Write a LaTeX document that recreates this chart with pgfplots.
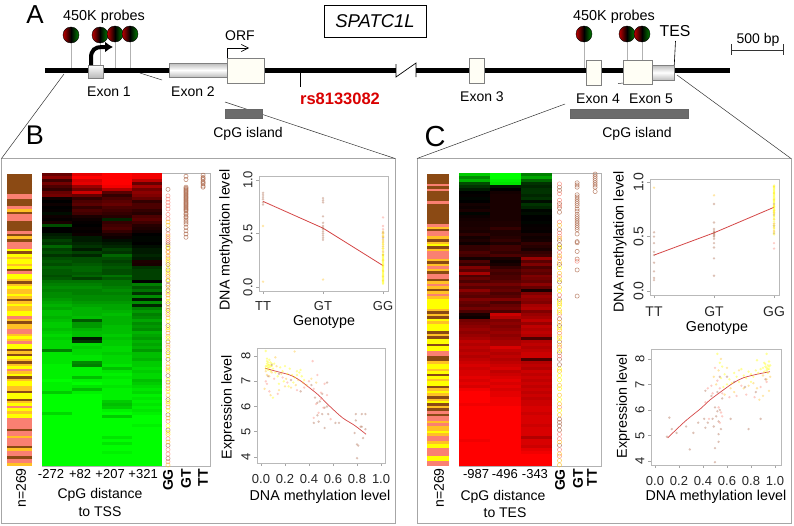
\documentclass[border=0pt]{standalone}
\usepackage{fontspec}
\setmainfont{Liberation Sans}
\usepackage{pgfplots}
\usepackage{pgfplotstable}
\usepackage{graphicx}
\pgfplotsset{compat=1.18}
\usetikzlibrary{arrows.meta}
\newcommand\fs[1]{\fontsize{#1}{#1}\selectfont}
\definecolor{cbrown}{RGB}{139,74,20}
\definecolor{csalmon}{RGB}{250,128,114}
\definecolor{cgold}{RGB}{255,193,37}
\definecolor{cyellow}{RGB}{255,255,0}
\definecolor{lineR}{RGB}{212,70,70}
\definecolor{circB}{RGB}{170,100,70}
\pgfdeclareplotmark{lolly}{\shade[left color=red!75!black,right color=green!50!black,middle color=black] (0,0) circle (8pt);}

% heat map rows, top to bottom: -1 green, 0 black, 1 red
\pgfplotstableread{
a b c d
.40 .90 1 .95
.55 1 1 .95
.25 .85 1 .75
.45 .9 1 .4
.3 .6 .95 .65
.2 .45 .7 .45
.4 .8 .35 .55
.45 .4 .2 .5
.05 .2 .3 .4
0 .3 .35 .2
.05 .35 .4 .3
0 .2 .3 .3
.02 .3 .25 .2
-.05 .25 .2 .15
.05 .1 .15 .3
.02 .05 -.15 .35
.1 .02 .2 .25
-.3 0 .25 .15
0 .03 .3 .12
0 .02 .2 .08
-.1 .05 .1 0
-.15 -.1 .05 -.02
-.25 -.1 -.05 -.02
-.2 -.15 -.1 0
-.4 -.2 -.15 -.05
-.25 -.1 -.25 -.1
-.3 -.25 -.2 -.1
-.2 -.15 -.4 -.15
-.3 -.3 -.3 -.1
-.35 -.3 -.25 .12
-.3 -.35 -.3 .1
-.4 -.4 -.35 -.2
-.35 -.4 -.3 -.25
-.35 -.35 -.3 -.25
-.3 -.4 -.45 -.25
-.35 -.25 -.35 -.25
-.45 -.45 -.45 0
-.5 -.5 -.45 -.5
-.55 -.55 -.5 -.35
-.5 -.5 -.55 -.45
-.55 -.5 -.5 -.2
-.55 -.55 -.55 -.55
-.6 -.55 -.55 -.1
-.65 -.6 -.6 -.55
-.7 -.65 -.65 -.15
-.65 -.7 -.65 -.5
-.75 -.7 -.7 -.6
-.75 -.7 -.75 -.5
-.7 -.75 -.7 -.55
-.75 -.35 -.7 -.65
-.8 -.6 -.7 -.55
-.8 -.6 -.75 -.6
-.75 -.7 -.75 -.55
-.8 -.75 -.75 -.7
-.85 -.75 -.8 -.65
-.8 -.1 -.75 -.6
-.85 -.2 -.8 -.7
-.85 -.85 -.8 -.65
-.85 -.8 -.85 -.7
-.5 -.85 -.85 -.6
-.9 -.85 -.8 -.75
-.9 -.9 -.85 -.75
-.9 -.9 -.85 -.7
-.9 -.55 -.85 -.8
-.95 -.5 -.9 -.8
-.95 -.95 -.75 -.85
-.95 -.95 -.9 -.8
-.95 -.95 -.95 -.85
-.95 -.75 -.9 -.85
-1 -.95 -.95 -.75
-.95 -1 -.95 -.8
-.95 -.9 -.9 -.85
-.95 -.75 -.95 -.9
-.8 -.95 -.95 -.85
-1 -1 -.95 -.95
-1 -1 -.95 -.9
-1 -1 -.8 -.95
-1 -1 -.75 -.9
-1 -1 -.8 -.95
-1 -1 -.95 -.9
-.85 -1 -1 -.95
-1 -1 -.8 -1
-1 -1 -1 -1
-1 -1 -1 -1
-1 -1 -1 -.95
-1 -1 -1 -1
-1 -1 -1 -1
-1 -1 -1 -1
-1 -1 -.9 -1
-1 -1 -1 -1
-1 -1 -.9 -1
-1 -1 -1 -1
-1 -1 -1 -1
-1 -1 -.95 -1
-1 -1 -1 -1
-1 -1 -1 -1
-1 -1 -1 -1
-1 -1 -1 -1
}\heatB

\pgfplotstableread{
a b c
-.8 -1 -.5
-.55 -1 -.65
-.7 -.95 -.4
-.3 -.9 -.2
-.2 -.1 -.15
-.1 0 -.2
0 .08 -.2
.02 .1 -.15
-.02 .1 -.2
0 .1 -.05
.08 .1 -.2
.05 .1 -.15
.1 .1 -.02
-.02 .1 -.05
.05 .1 0
.08 .1 0
.1 .12 -.02
.1 .12 .02
.12 .2 .03
.1 .12 .02
.18 .12 .1
.08 .15 .06
.12 .2 .08
.05 .12 .2
.2 .25 .15
.2 .25 .1
.3 .2 .2
.25 .3 .25
.08 .1 .6
.3 .05 .35
.2 .1 .5
.5 .2 .3
.35 .3 .4
.65 .25 .35
.3 .3 .5
.4 .3 .45
.3 .35 .4
.45 .45 .55
.35 .35 .4
.55 .4 .1
.4 .3 .5
.35 .35 .6
.5 .5 .55
.4 .3 .5
.35 .4 .65
.45 .45 .7
.3 .3 .5
.1 .8 .6
.05 .7 .65
.45 .5 .75
.5 .55 .6
.55 .5 .75
.6 .55 .7
.55 .6 .75
.6 .55 .7
.65 .6 .3
.75 .65 .7
.7 .65 .75
.75 .85 .7
.7 .75 .75
.75 .7 .8
.7 .75 .8
.75 .7 .3
.8 .75 .7
.85 .8 .75
.8 .85 .7
.85 .75 .8
.85 .8 .75
.9 .85 .8
.85 .9 .75
.9 .85 .8
.85 .9 .75
.95 .85 .8
1 .9 .75
1 .9 .8
1 .95 .75
1 .95 .8
.95 .95 .8
1 1 .85
1 1 .85
1 1 .8
1 1 .85
1 1 .85
1 1 .85
1 1 .8
1 1 .85
1 1 .85
1 1 .85
1 1 .7
.95 1 .85
1 1 .85
1 1 .8
1 1 .9
1 1 .95
1 1 1
1 1 1
1 1 1
1 1 1
}\heatC

% sidebar genotype stripes, one row each, read in blocks of three:
% 0 brown, 1 salmon, 2 gold, 3 yellow
\pgfplotstableread{
p q r
0 0 0
0 0 0
0 0 1
1 0 0
0 1 2
0 1 1
1 0 0
0 0 1
0 2 0
1 1 1
3 0 3
2 3 3
2 3 0
1 3 3
2 0 2
3 2 2
3 2 0
2 3 2
2 3 3
1 2 0
2 2 1
1 2 3
2 1 3
3 0 2
0 3 2
0 2 3
1 2 3
0 2 3
3 2 2
0 3 3
0 2 3
1 3 2
3 3 1
1 1 1
0 1 1
2 1 1
1 0 2
1 1 0
1 1 2
}\sideB
\pgfplotstableread{
p q r
0 0 0
0 1 0
1 0 0
0 0 1
0 0 0
0 0 0
0 0 1
2 0 1
1 2 0
2 3 0
2 1 1
1 2 0
2 1 2
0 1 1
0 2 1
2 0 2
1 2 3
3 3 3
2 0 2
0 3 2
3 3 3
0 2 0
3 3 0
3 3 1
1 0 0
2 3 3
2 3 0
3 2 3
3 0 2
3 2 0
2 3 0
2 0 1
0 1 1
2 1 2
2 3 2
1 1 2
3 3 1
1 1 3
3 1 1
}\sideC

\pgfplotsset{
  colormap={gbr}{rgb255=(0,255,0) rgb255=(0,0,0) rgb255=(255,0,0)},
  colormap={geno}{rgb255=(139,74,20) rgb255=(250,128,114) rgb255=(255,193,37) rgb255=(255,255,0)},
  heatrow/.style={only marks,scatter,point meta=explicit,mark=-,mark size=#1,
    scatter/use mapped color={draw=mapped color,fill=mapped color},
    mark options={line width=3.3pt}},
  siderow/.style={only marks,scatter,point meta=explicit,mark=-,mark size=#1,
    scatter/use mapped color={draw=mapped color,fill=mapped color},
    mark options={line width=2.8pt}},
  opencirc/.style={only marks,mark=o,mark size=2.1pt,mark options={draw=#1,line width=.55pt,draw opacity=.75}},
  dots/.style={only marks,color=#1,mark=*,mark size=1.3pt,mark options={draw opacity=0,fill=#1,fill opacity=.4}},
  tiny axis/.style={scale only axis,tick align=outside,tick pos=left,
    axis line style={gray!55},tick style={gray!70,line width=.5pt},major tick length=3pt,
    /pgf/number format/assume math mode=true,clip=false,
    ticklabel style={font=\fs{13},text=black!85},
    yticklabel style={rotate=90,anchor=south},
    xlabel style={font=\fs{14.3},anchor=center},ylabel style={font=\fs{14.3},anchor=center}},
  heat axis/.style={scale only axis,ymin=0,ymax=269,y dir=reverse,ytick=\empty,
    axis line style={gray!60},xtick style={draw=none},clip=false,
    xticklabel style={font=\fs{13},anchor=north,inner sep=1pt,yshift=-2pt},
    point meta min=-1,point meta max=1,colormap name=gbr},
  side axis/.style={scale only axis,hide axis,xmin=0,xmax=1,ymin=-.5,ymax=116.5,y dir=reverse,
    point meta min=0,point meta max=3,colormap name=geno}
}

\begin{document}
\begin{tikzpicture}
\useasboundingbox (0,0) rectangle (794pt,525pt);

% page axis in pixel units for the gene model and the texts
\begin{axis}[at={(0,0)},anchor=south west,scale only axis,width=794pt,height=525pt,
  xmin=0,xmax=794,ymin=0,ymax=525,y dir=reverse,hide axis,clip=false]
\addplot[draw=none] coordinates {(0,0) (794,525)};

\draw[gray!70,line width=.7pt] (1.5,158.5) rectangle (395,523.5);
\draw[gray!70,line width=.7pt] (417,158.5) rectangle (791,523.5);
\draw[black!80,line width=.5pt] (1.5,158.5) -- (64,74);
\draw[black!80,line width=.5pt] (140,73) -- (162,80);
\draw[black!80,line width=.5pt] (225,102) -- (395,158.5);
\draw[black!80,line width=.5pt] (417,158.5) -- (565,104);
\draw[black!80,line width=.5pt] (677,75) -- (791,158.5);
\draw[black!80,line width=.5pt] (618,83.5) -- (624,83);

\draw[gray!60,line width=.7pt] (71,35) -- (71,68) (100,35) -- (100,66) (115,35) -- (115,68) (130,35) -- (130,68)
  (584,35) -- (584,68) (627,35) -- (627,60) (642,35) -- (642,60);
\fill[black] (45,67.5) rectangle (396,72.5);
\fill[black] (416,67.5) rectangle (730,72.5);
\draw[black,line width=.7pt] (396,64) -- (396,77) -- (416,63) -- (416,77);
\draw[black,line width=.6pt] (300,70) -- (300,87);
\draw[black,line width=.6pt] (674,70) -- (675.5,41);

\path[draw=gray,line width=.6pt,top color=white,bottom color=gray!55] (88,65) rectangle (103,78);
\path[draw=gray,line width=.6pt,top color=gray!55,bottom color=gray!50,middle color=white] (169,63) rectangle (227,77);
\path[draw=gray,line width=.6pt,top color=gray!55,bottom color=gray!50,middle color=white] (652,65) rectangle (674,80);
\draw[gray,line width=.7pt,fill=white!96!yellow] (227,58) rectangle (264,83);
\draw[gray,line width=.7pt,fill=white!96!yellow] (469,58) rectangle (484,83);
\draw[gray,line width=.7pt,fill=white!96!yellow] (586,60) rectangle (601,85);
\draw[gray,line width=.7pt,fill=white!96!yellow] (623,60) rectangle (652,84);

\draw[black,line width=4pt,-{Latex[length=8pt,width=11pt]}] (91,65) -- (91,58) .. controls (91,50) and (95,47) .. (102,47) -- (113,47);
\draw[black,line width=.6pt,-{Straight Barb[length=7pt,width=7pt]}] (227,58) -- (227,48) -- (249,48);

\addplot[only marks,mark=lolly] coordinates {(71,35) (100,35) (115,34) (130,34) (584,34) (627,34) (642,34)};

\fill[gray!85!black] (225,109) rectangle (262,118);
\draw[gray!80!black,line width=.5pt] (225,109) rectangle (262,118);
\fill[gray!85!black] (570,109) rectangle (688,118);
\draw[gray!80!black,line width=.5pt] (570,109) rectangle (688,118);

\draw[black,line width=.5pt] (324,5) rectangle (426,37);
\node[font=\fs{18.5}\itshape] at (375,21) {SPATC1L};
\node[font=\fs{26}] at (35,14.5) {A};
\node[font=\fs{27}] at (35,135) {B};
\node[font=\fs{29}] at (435,137) {C};
\node[font=\fs{14.4}] at (104,17) {450K probes};
\node[font=\fs{14.4}] at (614,17) {450K probes};
\node[font=\fs{14}] at (240,36) {ORF};
\node[font=\fs{15.8}] at (675,31) {TES};
\node[font=\fs{14}] at (109,92) {Exon 1};
\node[font=\fs{14}] at (193,92) {Exon 2};
\node[font=\fs{14}] at (482,97) {Exon 3};
\node[font=\fs{14}] at (598,99) {Exon 4};
\node[font=\fs{14}] at (651,99) {Exon 5};
\node[font=\fs{16.5}\bfseries,text=red!85!black] at (340,99) {rs8133082};
\node[font=\fs{14}] at (248,134) {CpG island};
\node[font=\fs{14}] at (637,134) {CpG island};
\node[font=\fs{14}] at (758,40) {500 bp};
\draw[black!80,line width=.6pt] (731,44) -- (731,55) (731,50) -- (783,50) (783,44) -- (783,55);

\node[font=\fs{14},rotate=90] at (21,488) {n=269};
\node[font=\fs{14},rotate=90] at (439,488) {n=269};
\node[font=\fs{14}] at (100,495) {CpG distance};
\node[font=\fs{14}] at (100,512) {to TSS};
\node[font=\fs{14}] at (503,497) {CpG distance};
\node[font=\fs{14}] at (505,513) {to TES};
\end{axis}

% panel B sidebar and heat map
\begin{axis}[side axis,at={(7pt,351pt)},anchor=north west,width=25pt,height=292pt]
\addplot[siderow=12.5pt] table[x expr=0.5,y expr=\coordindex*3,meta=p] {\sideB};
\addplot[siderow=12.5pt] table[x expr=0.5,y expr=\coordindex*3+1,meta=q] {\sideB};
\addplot[siderow=12.5pt] table[x expr=0.5,y expr=\coordindex*3+2,meta=r] {\sideB};
\end{axis}
\begin{axis}[heat axis,at={(42pt,352pt)},anchor=north west,width=168pt,height=293pt,
  xmin=0,xmax=5.6,xtick={.3,1.27,2.27,3.37,4.2,4.8,5.37},
  xticklabels={-272,+82,+207,+321,\rotatebox{90}{\fs{14}\bfseries GG},\rotatebox{90}{\fs{14}\bfseries GT},\rotatebox{90}{\fs{14}\bfseries TT}}]
\addplot[heatrow=15pt] table[x expr=0.5,y expr=\coordindex*2.745+1.37,meta=a] {\heatB};
\addplot[heatrow=15pt] table[x expr=1.5,y expr=\coordindex*2.745+1.37,meta=b] {\heatB};
\addplot[heatrow=15pt] table[x expr=2.5,y expr=\coordindex*2.745+1.37,meta=c] {\heatB};
\addplot[heatrow=15pt] table[x expr=3.5,y expr=\coordindex*2.745+1.37,meta=d] {\heatB};
\addplot[opencirc=circB] coordinates {(5.37,2)(5.37,4)(5.37,5)(5.37,6)(5.37,8)(5.37,9)(5.37,10)(5.37,12)(5.37,13)
  (4.8,3)(4.8,6)(4.8,13)(4.8,14)(4.8,15)(4.8,16)(4.8,17)(4.8,18)(4.8,19)(4.8,20)(4.8,21)(4.8,22)(4.8,23)(4.8,24)(4.8,25)(4.8,26)(4.8,27)(4.8,28)(4.8,29)(4.8,30)(4.8,31)(4.8,32)(4.8,33)(4.8,34)(4.8,35)(4.8,37)(4.8,38)(4.8,40)(4.8,41)(4.8,43)(4.8,45)(4.8,47)(4.8,50)(4.8,53)(4.8,56)(4.8,59)
  (4.2,15)(4.2,52)(4.2,64)(4.2,66)(4.2,69)(4.2,84)(4.2,89)(4.2,99)(4.2,103)(4.2,108)(4.2,120)(4.2,126)(4.2,140)(4.2,155)(4.2,165)(4.2,171)(4.2,186)(4.2,192)(4.2,208)(4.2,222)(4.2,236)(4.2,250)(4.2,262)};
\addplot[opencirc=csalmon] coordinates {(4.2,21)(4.2,24)(4.2,27)(4.2,30)(4.2,33)(4.2,38)(4.2,42)(4.2,56)(4.2,60)(4.2,62)(4.2,73)(4.2,78)(4.2,95)(4.2,112)(4.2,130)(4.2,147)(4.2,160)(4.2,178)(4.2,198)(4.2,215)(4.2,228)(4.2,244)(4.2,254)(4.2,258)(4.2,265)};
\addplot[opencirc=cgold] coordinates {(4.2,45)(4.2,48)(4.2,58)(4.2,72)(4.2,76)(4.2,82)(4.2,93)(4.2,105)(4.2,115)(4.2,124)(4.2,133)(4.2,144)(4.2,150)(4.2,158)(4.2,175)(4.2,182)(4.2,195)(4.2,204)(4.2,212)(4.2,225)(4.2,240)(4.2,247)(4.2,268)};
\addplot[opencirc=cyellow] coordinates {(4.2,68)(4.2,80)(4.2,87)(4.2,91)(4.2,98)(4.2,110)(4.2,118)(4.2,128)(4.2,136)(4.2,142)(4.2,152)(4.2,163)(4.2,168)(4.2,180)(4.2,190)(4.2,200)(4.2,210)(4.2,218)(4.2,232)(4.2,238)};
\end{axis}

% panel B genotype vs methylation
\begin{axis}[tiny axis,at={(259pt,349pt)},anchor=north west,width=129pt,height=115pt,
  xmin=.933,xmax=3.083,ymin=-.037,ymax=1.037,xtick={1,2,3},xticklabels={TT,GT,GG},ytick={0,.5,1},
  xticklabel style={yshift=-4pt},
  yticklabel={\pgfmathprintnumber[fixed,fixed zerofill,precision=1]{\tick}},
  xlabel={Genotype},ylabel={DNA methylation level},
  xlabel style={at={(axis description cs:.504,-.27)}},ylabel style={at={(axis description cs:-.256,.443)}}]
\addplot[dots=circB] coordinates {(1,.88)(1,.86)(1,.84)(1,.82)(1,.79)(1,.77)(2,.83)(2,.81)(2,.79)(2,.66)(2,.6)(2,.57)(2,.55)(2,.54)(2,.52)(2,.5)(2,.48)(2,.46)(2,.44)(3,.3)(3,.46)(3,.51)};
\addplot[dots=csalmon] coordinates {(3,.65)(3,.57)(3,.54)(3,.5)(3,.47)(3,.44)(3,.42)(3,.38)(3,.33)};
\addplot[dots=cgold] coordinates {(1,.57)(1,.05)(2,.07)(3,.52)(3,.48)(3,.4)(3,.36)(3,.3)(3,.25)(3,.2)(3,.15)(3,.1)(3,.06)};
\addplot[dots=cyellow] coordinates {(3,.03)(3,.04)(3,.05)(3,.06)(3,.07)(3,.08)(3,.09)(3,.1)(3,.11)(3,.12)(3,.13)(3,.14)(3,.15)(3,.16)(3,.17)(3,.18)(3,.19)(3,.2)(3,.21)(3,.22)(3,.23)(3,.24)(3,.25)(3,.26)(3,.27)(3,.28)(3,.29)(3,.3)(3,.32)(3,.34)(3,.36)(3,.38)(3,.4)(3,.42)(3,.44)(3,.47)(3,.5)};
\addplot[lineR,line width=.8pt] coordinates {(1,.8)(2,.55)(3,.2)};
\end{axis}

% panel B methylation vs expression
\begin{axis}[tiny axis,at={(257pt,177pt)},anchor=north west,width=128pt,height=115pt,
  xmin=-.033,xmax=1.033,ymin=3.76,ymax=8.32,xtick={0,.2,.4,.6,.8,1},ytick={4,5,6,7,8},
  xticklabel={\pgfmathprintnumber[fixed,fixed zerofill,precision=1]{\tick}},
  xticklabel style={yshift=-5pt},
  xlabel={DNA methylation level},ylabel={Expression level},
  xlabel style={at={(axis description cs:.492,-.296)}},ylabel style={at={(axis description cs:-.227,.487)}}]
\addplot[dots=cyellow] coordinates {(.04,7.6)(.05,7.7)(.06,7.55)(.05,7.8)(.07,7.65)(.08,7.75)(.06,7.45)(.04,7.5)(.09,7.6)(.1,7.5)(.05,7.9)(.07,7.85)(.04,8.2)(.08,7.4)(.11,7.7)(.12,7.35)(.14,7.2)(.16,7.55)(.18,7.4)(.2,7.6)(.22,7.3)(.24,7.5)(.26,7.25)(.28,7.15)(.3,7.4)(.32,7.35)(.34,7.2)(.36,7.05)(.19,7.0)(.23,6.8)(.27,6.95)(.1,6.35)(.15,6.9)(.06,7.65)(.07,7.55)(.05,7.6)(.06,7.75)(.08,7.6)(.09,7.7)(.3,7.25)(.33,7.45)};
\addplot[dots=cgold] coordinates {(.04,7.4)(.05,7.25)(.07,7.2)(.09,7.35)(.13,7.6)(.17,7.3)(.21,7.1)(.25,6.75)(.29,6.85)(.31,7.05)(.35,6.95)(.38,6.85)(.42,7.1)(.46,6.95)(.12,7.95)(.28,8.18)(.15,6.65)(.2,6.8)(.03,6.7)(.08,6.45)};
\addplot[dots=csalmon] coordinates {(.04,7.0)(.05,6.9)(.07,6.6)(.11,7.1)(.14,6.5)(.18,7.15)(.22,6.95)(.3,6.65)(.36,6.75)(.4,7.0)(.44,6.7)(.47,7.25)(.5,6.55)(.53,6.9)(.55,6.45)(.46,6.1)(.48,5.75)(.52,5.95)(.44,5.55)(.58,5.5)(.43,7.8)(.5,6.3)};
\addplot[dots=circB] coordinates {(.06,7.2)(.09,7.65)(.15,7.3)(.25,7.05)(.33,6.6)(.42,6.85)(.45,6.35)(.47,6.15)(.49,6.2)(.53,5.95)(.55,6.0)(.44,5.35)(.48,5.4)(.51,5.7)(.53,5.15)(.56,5.7)(.62,5.35)(.65,5.35)(.47,5.65)(.51,6.5)(.55,6.95)(.79,5.7)(.79,5.45)(.84,5.7)(.87,5.7)(.87,5.1)(.84,5.2)(.78,4.95)(.85,4.75)(.8,4.5)(.81,4.45)(.8,3.95)(.83,5.2)};
\addplot[lineR,line width=.7pt,smooth] coordinates {(.035,7.52)(.1,7.43)(.24,7.25)(.32,7.05)(.41,6.72)(.48,6.45)(.575,6.0)(.68,5.55)(.78,5.25)(.875,4.9)};
\end{axis}

% panel C sidebar and heat map
\begin{axis}[side axis,at={(427pt,351pt)},anchor=north west,width=22pt,height=292pt]
\addplot[siderow=11pt] table[x expr=0.5,y expr=\coordindex*3,meta=p] {\sideC};
\addplot[siderow=11pt] table[x expr=0.5,y expr=\coordindex*3+1,meta=q] {\sideC};
\addplot[siderow=11pt] table[x expr=0.5,y expr=\coordindex*3+2,meta=r] {\sideC};
\end{axis}
\begin{axis}[heat axis,at={(459pt,352pt)},anchor=north west,width=142pt,height=293pt,
  xmin=0,xmax=4.58,xtick={.55,1.48,2.45,3.26,3.84,4.29},
  xticklabels={-987,-496,-343,\rotatebox{90}{\fs{14}\bfseries GG},\rotatebox{90}{\fs{14}\bfseries GT},\rotatebox{90}{\fs{14}\bfseries TT}}]
\addplot[heatrow=15.5pt] table[x expr=0.5,y expr=\coordindex*2.745+1.37,meta=a] {\heatC};
\addplot[heatrow=15.5pt] table[x expr=1.5,y expr=\coordindex*2.745+1.37,meta=b] {\heatC};
\addplot[heatrow=15.5pt] table[x expr=2.5,y expr=\coordindex*2.745+1.37,meta=c] {\heatC};
\addplot[opencirc=circB] coordinates {(4.39,1)(4.39,3)(4.39,5)(4.39,7)(4.39,9)(4.39,11)(4.39,13)(4.39,17)
  (3.81,9)(3.81,11)(3.81,13)(3.81,20)(3.81,22)(3.81,24)(3.81,26)(3.81,28)(3.81,30)(3.81,33)(3.81,35)(3.81,38)(3.81,40)(3.81,42)(3.81,44)(3.81,46)(3.81,48)(3.81,50)(3.81,52)(3.81,56)(3.81,63)(3.81,64)(3.81,72)(3.81,79)(3.81,89)(3.81,113)
  (3.24,13)(3.24,16)(3.24,28)(3.24,32)(3.24,36)(3.24,52)(3.24,62)(3.24,66)(3.24,69)(3.24,84)(3.24,100)(3.24,116)(3.24,134)(3.24,140)(3.24,155)(3.24,165)(3.24,171)(3.24,176)(3.24,226)(3.24,229)(3.24,232)(3.24,236)(3.24,250)};
\addplot[opencirc=csalmon] coordinates {(3.24,10)(3.24,19)(3.24,25)(3.24,30)(3.24,45)(3.24,55)(3.24,58)(3.24,73)(3.24,78)(3.24,95)(3.24,112)(3.24,130)(3.24,147)(3.24,160)(3.24,168)(3.24,215)(3.24,240)(3.24,244)(3.24,254)(3.24,260)(3.81,81)};
\addplot[opencirc=cgold] coordinates {(3.24,48)(3.24,60)(3.24,76)(3.24,82)(3.24,92)(3.24,105)(3.24,120)(3.24,126)(3.24,137)(3.24,144)(3.24,150)(3.24,158)(3.24,182)(3.24,195)(3.24,204)(3.24,212)(3.24,222)(3.24,247)(3.24,258)(3.24,264)(3.24,268)};
\addplot[opencirc=cyellow] coordinates {(3.24,68)(3.24,87)(3.24,98)(3.24,108)(3.24,118)(3.24,122)(3.24,128)(3.24,142)(3.24,152)(3.24,163)(3.24,180)(3.24,186)(3.24,190)(3.24,198)(3.24,208)(3.24,218)};
\end{axis}

% panel C genotype vs methylation
\begin{axis}[tiny axis,at={(650pt,346pt)},anchor=north west,width=129pt,height=116pt,
  xmin=.933,xmax=3.083,ymin=-.037,ymax=1.03,xtick={1,2,3},xticklabels={TT,GT,GG},ytick={0,.5,1},
  ticklabel style={font=\fs{14}},xticklabel style={yshift=-5pt},
  yticklabel={\pgfmathprintnumber[fixed,fixed zerofill,precision=1]{\tick}},
  xlabel={Genotype},ylabel={DNA methylation level},
  xlabel style={at={(axis description cs:.519,-.284)}},ylabel style={at={(axis description cs:-.233,.457)}}]
\addplot[dots=circB] coordinates {(1,.54)(1,.5)(1,.44)(1,.36)(1,.33)(1,.26)(1,.18)(1,.12)(1,.1)(2,.8)(2,.63)(2,.57)(2,.55)(2,.54)(2,.53)(2,.52)(2,.51)(2,.5)(2,.48)(2,.44)(2,.4)(2,.3)(2,.14)(3,.8)(3,.7)(3,.6)(3,.53)};
\addplot[dots=csalmon] coordinates {(3,.44)(3,.39)(3,.55)(3,.62)(3,.72)};
\addplot[dots=cgold] coordinates {(1,.95)(2,.88)(3,.96)(3,.9)(3,.84)(3,.78)(3,.74)(3,.66)(3,.58)};
\addplot[dots=cyellow] coordinates {(3,.97)(3,.96)(3,.95)(3,.94)(3,.93)(3,.92)(3,.91)(3,.9)(3,.89)(3,.88)(3,.87)(3,.86)(3,.85)(3,.84)(3,.83)(3,.82)(3,.81)(3,.79)(3,.78)(3,.77)(3,.76)(3,.75)(3,.74)(3,.73)(3,.72)(3,.71)(3,.69)(3,.68)(3,.66)(3,.64)(3,.62)(3,.6)(3,.58)(3,.56)(3,.54)(3,.52)};
\addplot[lineR,line width=.8pt] coordinates {(1,.33)(2,.535)(3,.77)};
\end{axis}

% panel C methylation vs expression
\begin{axis}[tiny axis,at={(651pt,176pt)},anchor=north west,width=130pt,height=116pt,
  xmin=-.033,xmax=1.05,ymin=3.84,ymax=8.39,xtick={0,.2,.4,.6,.8,1},ytick={4,5,6,7,8},
  xticklabel={\pgfmathprintnumber[fixed,fixed zerofill,precision=1]{\tick}},
  xticklabel style={yshift=-5pt},
  xlabel={DNA methylation level},ylabel={Expression level},
  xlabel style={at={(axis description cs:.5,-.276)}},ylabel style={at={(axis description cs:-.215,.509)}}]
\addplot[dots=cyellow] coordinates {(.94,7.6)(.95,7.7)(.93,7.55)(.92,7.8)(.9,7.65)(.96,7.75)(.94,7.45)(.91,7.5)(.88,7.6)(.86,7.45)(.95,7.9)(.93,8.2)(.84,7.55)(.82,7.3)(.8,7.4)(.78,7.5)(.76,7.25)(.74,7.35)(.72,7.6)(.7,7.1)(.68,7.3)(.66,7.45)(.64,7.05)(.62,7.2)(.6,7.0)(.58,7.4)(.56,7.7)(.54,7.85)(.52,8.2)(.55,7.25)(.57,6.9)(.93,7.65)(.92,7.7)(.94,7.75)(.95,7.6)(.91,7.85)(.85,7.95)(.8,7.1)};
\addplot[dots=cgold] coordinates {(.96,7.3)(.93,7.2)(.9,7.35)(.87,6.4)(.85,6.85)(.82,7.05)(.78,6.95)(.74,6.85)(.7,7.55)(.66,6.7)(.63,6.85)(.6,7.65)(.55,8.0)(.53,7.55)(.51,7.0)(.49,7.3)(.95,6.75)(.9,6.55)(.58,6.6)};
\addplot[dots=csalmon] coordinates {(.93,7.1)(.88,6.9)(.83,6.5)(.76,6.6)(.72,6.95)(.68,6.55)(.62,6.5)(.56,6.65)(.54,6.85)(.52,7.15)(.5,7.65)(.47,6.95)(.44,6.85)(.48,6.65)(.42,6.3)(.45,5.65)(.55,5.9)(.53,6.1)(.54,5.5)(.56,5.75)};
\addplot[dots=circB] coordinates {(.1,4.95)(.12,5.7)(.14,5.25)(.18,5.1)(.26,5.35)(.29,4.45)(.32,5.1)(.36,5.5)(.41,5.65)(.42,5.3)(.44,5.5)(.48,5.65)(.49,5.35)(.51,5.75)(.52,5.95)(.54,6.0)(.53,5.55)(.55,5.25)(.53,5.05)(.53,4.75)(.5,4.5)(.5,3.95)(.63,5.65)(.78,5.25)(.88,5.65)(.5,6.1)(.52,6.7)(.56,6.45)(.6,7.3)(.66,7.1)(.75,6.9)(.84,6.7)(.92,7.2)(.54,7.3)(.47,6.55)(.42,6.75)};
\addplot[lineR,line width=.7pt,smooth] coordinates {(.105,4.9)(.25,5.55)(.38,6.05)(.458,6.39)(.583,6.83)(.66,7.08)(.736,7.26)(.85,7.4)(.958,7.5)};
\end{axis}
\end{tikzpicture}
\end{document}
